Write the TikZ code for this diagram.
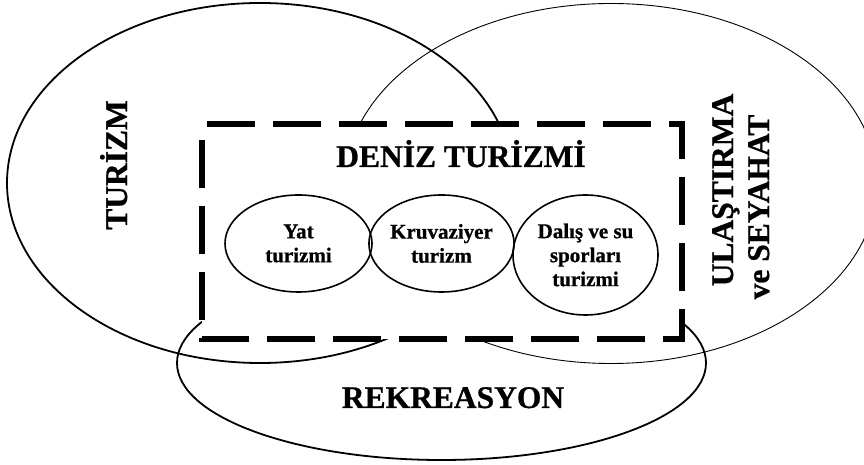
\documentclass[tikz,border=0pt]{standalone}
\usepackage{fontspec}
\setmainfont{Liberation Serif}[BoldFeatures={FakeBold=0.8}]
\usetikzlibrary{shapes.geometric}
\begin{document}
\begin{tikzpicture}[x=1pt,y=1pt,
  bigell/.style={ellipse, draw=black, line width=1.8pt, inner sep=0pt},
  thinell/.style={ellipse, draw=black, line width=0.9pt, inner sep=0pt},
  dashbox/.style={draw=black, fill=white, line width=6pt, dash pattern=on 48pt off 18pt, dash phase=61pt, line join=miter},
  item/.style={ellipse, draw=black, line width=1.6pt, inner sep=0pt, align=center, font=\fontsize{21}{24}\selectfont\bfseries},
  bigtext/.style={font=\fontsize{31.5}{36}\selectfont\bfseries, inner sep=0pt, anchor=base}]
\useasboundingbox[fill=white] (0,0) rectangle (864,465);
% outer sets
\node[bigell, minimum width=506pt, minimum height=360pt] (turizm) at (260,282) {};
\node[thinell, minimum width=532pt, minimum height=360pt] (ulasim) at (611,281.5) {};
\node[bigell, minimum width=529pt, minimum height=194pt] (rekr) at (441.5,102) {};
% dashed box
\coordinate (tl) at (202,341.3);
\coordinate (tr) at (681.5,341.3);
\coordinate (br) at (681.5,126);
\coordinate (bl) at (202,126);
\draw[dashbox] (tl) -- (tr) -- (br) -- (bl) -- cycle;
% inner items
\node[item, minimum width=147pt, minimum height=97pt] (yat) at (298.5,221.5) {Yat\\turizmi};
\node[item, minimum width=143pt, minimum height=97pt] (kru) at (441.5,221.5) {Kruvaziyer\\turizm};
\node[item, minimum width=145pt, minimum height=120pt] (dal) at (585.5,210) {Dalış ve su\\sporları\\turizmi};
% labels
\node[bigtext] (deniz) at (461,298) {DENİZ TURİZMİ};
\node[bigtext] (rek) at (453,57) {REKREASYON};
\node[bigtext, rotate=90] (tur) at (127,300) {TURİZM};
\node[bigtext, rotate=90] (ul1) at (733,275) {ULAŞTIRMA};
\node[bigtext, rotate=90] (ul2) at (769,258) {ve SEYAHAT};
\end{tikzpicture}
\end{document}
